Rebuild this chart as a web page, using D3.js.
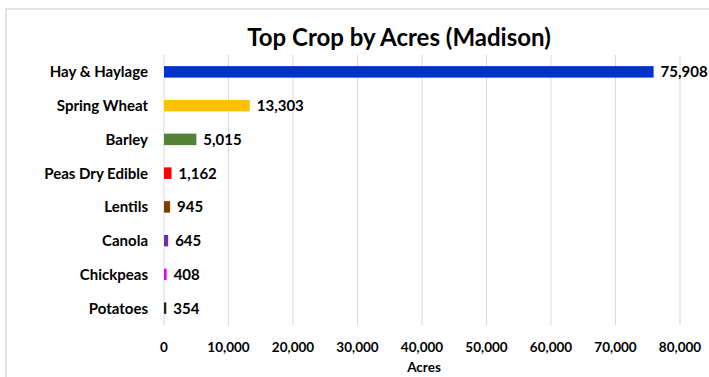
<!DOCTYPE html>
<html>
<head>
<meta charset="utf-8">
<style>
body { margin: 0; background: #fff; }
text { font-family: Lato, "Open Sans", sans-serif; font-weight: bold; fill: #000; }
.grid line { stroke: #d9d9d9; stroke-width: 1px; }
</style>
<title></title></head>
<body>
<script src="https://cdn.jsdelivr.net/npm/d3@7"></script>
<script>

var crops = ["Hay & Haylage", "Spring Wheat", "Barley", "Peas Dry Edible", "Lentils", "Canola", "Chickpeas", "Potatoes"];
var acres = [75908, 13303, 5015, 1162, 945, 645, 408, 354];
var colors = ["#0033cc", "#ffc000", "#548235", "#ff0000", "#7f3f00", "#7030a0", "#e600ff", "#222222"];
var ticks = [0, 10000, 20000, 30000, 40000, 50000, 60000, 70000, 80000];

var width = 709,
    height = 377;

var svg = d3.select("body").append("svg")
    .attr("width", width)
    .attr("height", height);

// chart frame
svg.append("rect")
    .attr("x", 6).attr("y", 9)
    .attr("width", width + 10).attr("height", height + 10)
    .attr("fill", "none")
    .attr("stroke", "#d9d9d9")
    .attr("stroke-width", 1.5);

var x = d3.scaleLinear().domain([0, 80000]).range([164, 680]);

var y = d3.scaleBand()
    .domain(crops)
    .range([55, 325])
    .paddingInner(0.66)
    .paddingOuter(0.33);

// gridlines
svg.append("g").attr("class", "grid")
    .selectAll("line")
    .data(ticks)
    .enter().append("line")
    .attr("x1", function(d) { return x(d); })
    .attr("x2", function(d) { return x(d); })
    .attr("y1", 55)
    .attr("y2", 325);

// bars
svg.append("g")
    .selectAll("rect")
    .data(crops)
    .enter().append("rect")
    .attr("x", x(0))
    .attr("y", function(d) { return y(d); })
    .attr("width", function(d, i) { return x(acres[i]) - x(0); })
    .attr("height", y.bandwidth())
    .attr("fill", function(d, i) { return colors[i]; });

// value labels
svg.append("g")
    .selectAll("text")
    .data(crops)
    .enter().append("text")
    .attr("x", function(d, i) { return x(acres[i]) + 7; })
    .attr("y", function(d) { return y(d) + y.bandwidth() / 2; })
    .attr("dy", "0.36em")
    .style("font-size", "15px")
    .text(function(d, i) { return d3.format(",")(acres[i]); });

// category labels
svg.append("g")
    .selectAll("text")
    .data(crops)
    .enter().append("text")
    .attr("x", 148)
    .attr("y", function(d) { return y(d) + y.bandwidth() / 2; })
    .attr("dy", "0.36em")
    .attr("text-anchor", "end")
    .style("font-size", "15px")
    .text(function(d) { return d; });

// x axis tick labels
svg.append("g")
    .selectAll("text")
    .data(ticks)
    .enter().append("text")
    .attr("x", function(d) { return x(d); })
    .attr("y", 347)
    .attr("dy", "0.36em")
    .attr("text-anchor", "middle")
    .style("font-size", "13.5px")
    .text(function(d) { return d3.format(",")(d); });

svg.append("text")
    .attr("x", 424)
    .attr("y", 367)
    .attr("dy", "0.36em")
    .attr("text-anchor", "middle")
    .style("font-size", "13.5px")
    .text("Acres");

svg.append("text")
    .attr("x", 399)
    .attr("y", 37)
    .attr("dy", "0.36em")
    .attr("text-anchor", "middle")
    .style("font-size", "24px")
    .text("Top Crop by Acres (Madison)");

</script>
</body>
</html>
